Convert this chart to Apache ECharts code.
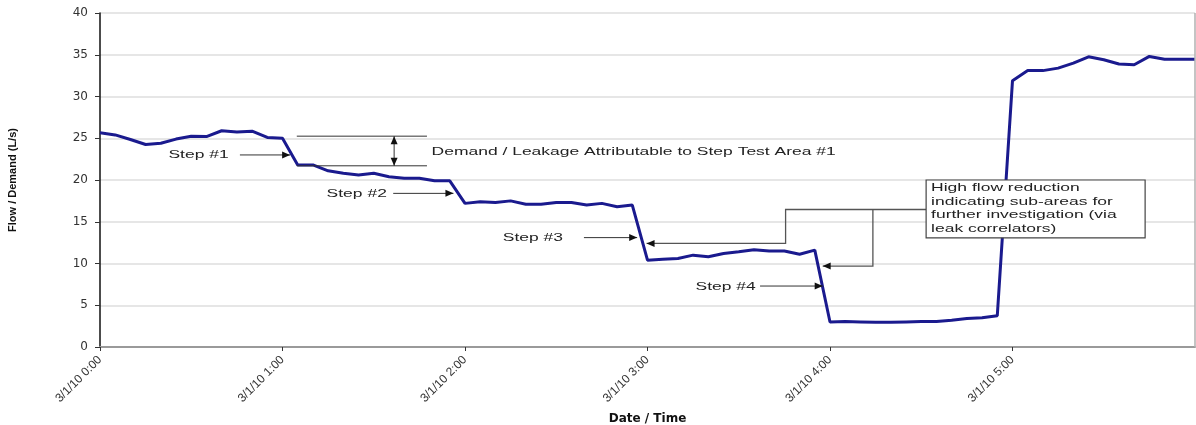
<!DOCTYPE html>
<html>
<head>
<meta charset="utf-8">
<script src="https://cdn.jsdelivr.net/npm/echarts@6/dist/echarts.min.js"></script>
<style>
  html, body { margin: 0; padding: 0; background: #fff; }
  #flowChart { width: 1196px; height: 425px; }
</style>
</head>
<body>
<div id="flowChart"></div>
<script>
// readings every 5 minutes from 3/1/10 0:00 to 6:00 (L/s)
const stepMinutes = 5
const flow = [
  25.65, 25.4, 24.85, 24.25, 24.4, 24.9, 25.25, 25.2, 25.9, 25.75, 25.85, 25.1, 25.0,
  21.8, 21.8, 21.1, 20.8, 20.6, 20.8, 20.4, 20.2, 20.2, 19.9, 19.9,
  17.2, 17.4, 17.3, 17.5, 17.1, 17.1, 17.3, 17.3, 17.0, 17.2, 16.8, 17.0,
  10.4, 10.5, 10.6, 11.0, 10.8, 11.2, 11.4, 11.65, 11.5, 11.5, 11.1, 11.6,
  3.0, 3.05, 3.0, 2.95, 2.95, 3.0, 3.05, 3.05, 3.2, 3.4, 3.5, 3.75,
  31.9, 33.1, 33.1, 33.4, 34.0, 34.75, 34.4, 33.9, 33.8, 34.8, 34.45, 34.45, 34.45
]
const hourLabels = ['3/1/10 0:00', '3/1/10 1:00', '3/1/10 2:00', '3/1/10 3:00', '3/1/10 4:00', '3/1/10 5:00']

// annotations, in data units [minutes, L/s]
const stepNotes = [
  { text: 'Step #1', at: [22.5, 23.0], arrow: [[46, 23.0], [62.5, 23.0]] },
  { text: 'Step #2', at: [74.5, 18.4], arrow: [[96.4, 18.4], [116.2, 18.4]] },
  { text: 'Step #3', at: [132.4, 13.1], arrow: [[159.1, 13.1], [176.6, 13.1]] },
  { text: 'Step #4', at: [195.8, 7.2], arrow: [[217, 7.3], [237.6, 7.3]] }
]
const bracketTop = 25.25
const bracketBottom = 21.7
const bracketX = [64.7, 107.5]
const bracketArrowX = 96.7
const demandNote = { text: 'Demand / Leakage Attributable to Step Test Area #1', at: [109, 23.35] }
const connectors = [
  [[271.6, 16.47], [225.4, 16.47], [225.4, 12.4], [179.7, 12.4]],
  [[254.1, 16.47], [254.1, 9.69], [237.6, 9.69]]
]
const boxCorners = [[271.6, 20.0], [343.6, 13.07]]
const boxText = 'High flow reduction\nindicating sub-areas for\nfurther investigation (via\nleak correlators)'

const chartDom = document.getElementById('flowChart')
const myChart = echarts.init(chartDom)
let option

const seriesData = flow.map((v, i) => [i * stepMinutes, v])
const annoFont = '"Liberation Sans", Arial, sans-serif'
const textStretch = 1.52   // the source lettering is drawn wide

option = {
  backgroundColor: '#fff',
  animation: false,
  grid: {
    left: 100,
    right: 1,
    top: 13,
    bottom: 78,
    outerBoundsMode: 'none',
    containLabel: false
  },
  xAxis: {
    type: 'value',
    min: 0,
    max: 360,
    interval: 60,
    name: 'Date / Time',
    nameLocation: 'middle',
    nameGap: 66,
    nameTextStyle: { fontFamily: '"DejaVu Sans", sans-serif', fontWeight: 'bold', fontSize: 12, color: '#111' },
    axisLine: { lineStyle: { color: '#9a9a9a', width: 2 } },
    axisTick: { show: true, length: 4, lineStyle: { color: '#333' } },
    splitLine: { show: false },
    axisLabel: {
      rotate: 45,
      margin: 11,
      showMaxLabel: false,
      fontFamily: annoFont,
      fontSize: 12,
      color: '#333',
      formatter: v => hourLabels[v / 60] || ''
    }
  },
  yAxis: {
    type: 'value',
    min: 0,
    max: 40,
    interval: 5,
    name: 'Flow / Demand (L/s)',
    nameLocation: 'middle',
    nameGap: 82,
    nameTextStyle: { fontFamily: '"Liberation Sans Narrow", "Liberation Sans", Arial, sans-serif', fontWeight: 'bold', fontSize: 11, color: '#111' },
    axisLine: { show: true, lineStyle: { color: '#111', width: 1.5 } },
    axisTick: { show: true, length: 5, lineStyle: { color: '#333' } },
    splitLine: { lineStyle: { color: '#dedede', width: 1.5 } },
    axisLabel: { margin: 12, fontFamily: '"DejaVu Sans", sans-serif', fontSize: 12, color: '#333' }
  },
  series: [
    {
      name: 'Flow',
      type: 'line',
      data: seriesData,
      showSymbol: false,
      lineStyle: { color: '#1a1a8e', width: 3 },
      z: 5
    }
  ]
}

option && myChart.setOption(option)

// annotations drawn after the grid exists so data units can be mapped to pixels
const px = p => myChart.convertToPixel({ gridIndex: 0 }, p)

function arrowHead (tip, from, color) {
  const dx = tip[0] - from[0]
  const dy = tip[1] - from[1]
  const len = Math.sqrt(dx * dx + dy * dy) || 1
  const ux = dx / len, uy = dy / len
  const L = 8, W = 3.5
  const bx = tip[0] - ux * L, by = tip[1] - uy * L
  return {
    type: 'polygon',
    shape: { points: [tip, [bx - uy * W, by + ux * W], [bx + uy * W, by - ux * W]] },
    style: { fill: color },
    z: 20
  }
}

function lineEl (a, b, color, width) {
  return {
    type: 'line',
    shape: { x1: a[0], y1: a[1], x2: b[0], y2: b[1] },
    style: { stroke: color, lineWidth: width },
    z: 20
  }
}

function textEl (text, at, extra) {
  return {
    type: 'text',
    x: at[0],
    y: at[1],
    scaleX: textStretch,
    style: Object.assign({ text: text, font: '11.5px ' + annoFont, fill: '#222', verticalAlign: 'middle' }, extra || {}),
    z: 23
  }
}

const graphics = []

// right border of the plot
const rTop = px([360, 40]), rBottom = px([360, 0])
graphics.push(lineEl(rTop, rBottom, '#b0b0b0', 1.5))

stepNotes.forEach(s => {
  graphics.push(textEl(s.text, px(s.at)))
  const a = px(s.arrow[0]), b = px(s.arrow[1])
  graphics.push(lineEl(a, b, '#333', 1))
  graphics.push(arrowHead(b, a, '#111'))
})

// bracket for step #1
const bt1 = px([bracketX[0], bracketTop]), bt2 = px([bracketX[1], bracketTop])
const bb1 = px([bracketX[0], bracketBottom]), bb2 = px([bracketX[1], bracketBottom])
graphics.push(lineEl(bt1, bt2, '#333', 1))
graphics.push(lineEl(bb1, bb2, '#333', 1))
const va = px([bracketArrowX, bracketTop]), vb = px([bracketArrowX, bracketBottom])
graphics.push(lineEl(va, vb, '#333', 1))
graphics.push(arrowHead(va, vb, '#111'))
graphics.push(arrowHead(vb, va, '#111'))
graphics.push(textEl(demandNote.text, px(demandNote.at)))

// callout connectors
connectors.forEach(c => {
  const pts = c.map(px)
  graphics.push({
    type: 'polyline',
    shape: { points: pts },
    style: { stroke: '#555', lineWidth: 1.3, fill: null },
    z: 20
  })
  graphics.push(arrowHead(pts[pts.length - 1], pts[pts.length - 2], '#111'))
})

// callout box
const c1 = px(boxCorners[0]), c2 = px(boxCorners[1])
graphics.push({
  type: 'rect',
  shape: { x: c1[0], y: c1[1], width: c2[0] - c1[0], height: c2[1] - c1[1] },
  style: { fill: '#fff', stroke: '#444', lineWidth: 1.2 },
  z: 22
})
graphics.push(textEl(boxText, [c1[0] + 5, c1[1] + 1.5], { lineHeight: 13.4, verticalAlign: 'top' }))

myChart.setOption({ graphic: graphics })
</script>
</body>
</html>
